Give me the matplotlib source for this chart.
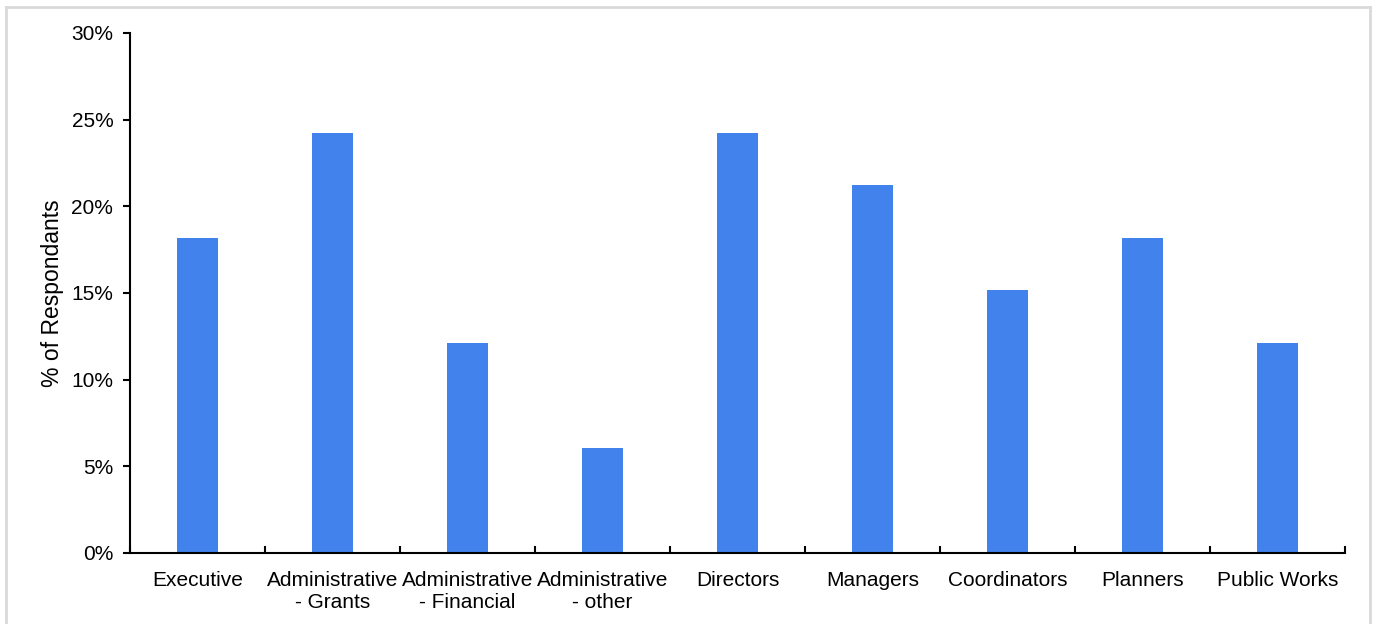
import matplotlib.pyplot as plt
import numpy as np
from matplotlib.ticker import PercentFormatter, FixedLocator
from matplotlib.lines import Line2D

plt.rcParams['font.family'] = ['Liberation Sans', 'DejaVu Sans']

categories = ['Executive', 'Administrative\n- Grants', 'Administrative\n- Financial',
              'Administrative\n- other', 'Directors', 'Managers', 'Coordinators',
              'Planners', 'Public Works']
shares = [18.18, 24.24, 12.12, 6.06, 24.24, 21.21, 15.15, 18.18, 12.12]

fig = plt.figure(figsize=(13.78, 6.24), dpi=100)
ax = fig.add_axes([130 / 1378, 1 - 553 / 624, 1215 / 1378, 520 / 624])

x = np.arange(len(categories))
ax.bar(x, shares, width=0.31, color='#4282ED')

ax.set_xlim(-0.5, len(categories) - 0.5)
ax.set_ylim(0, 30)
ax.set_yticks(np.arange(0, 31, 5))
ax.yaxis.set_major_formatter(PercentFormatter(decimals=0))
ax.tick_params(axis='y', direction='out', length=5, width=1.5, labelsize=15, pad=7)

# category labels centered, ticks at the boundaries
ax.set_xticks(x)
ax.set_xticklabels(categories, fontsize=15, linespacing=1.2)
ax.tick_params(axis='x', length=0, pad=13)
ax.xaxis.set_minor_locator(FixedLocator(np.arange(-0.5, len(categories), 1.0)))
ax.tick_params(axis='x', which='minor', direction='in', length=5, width=1.5)

ax.set_ylabel('% of Respondants', fontsize=16.5, labelpad=5)

for s in ['top', 'right']:
    ax.spines[s].set_visible(False)
ax.spines['left'].set_linewidth(1.5)
ax.spines['bottom'].set_linewidth(1.5)

# light gray frame around the chart
frame_col = '#D9D9D9'
fig.add_artist(Line2D([6 / 1378, 6 / 1378], [0, 1 - 7 / 624], transform=fig.transFigure, color=frame_col, lw=2))
fig.add_artist(Line2D([6 / 1378, 1370 / 1378], [1 - 7 / 624, 1 - 7 / 624], transform=fig.transFigure, color=frame_col, lw=2))
fig.add_artist(Line2D([1370 / 1378, 1370 / 1378], [0, 1 - 7 / 624], transform=fig.transFigure, color=frame_col, lw=2))

fig.savefig('out.png', dpi=100)
